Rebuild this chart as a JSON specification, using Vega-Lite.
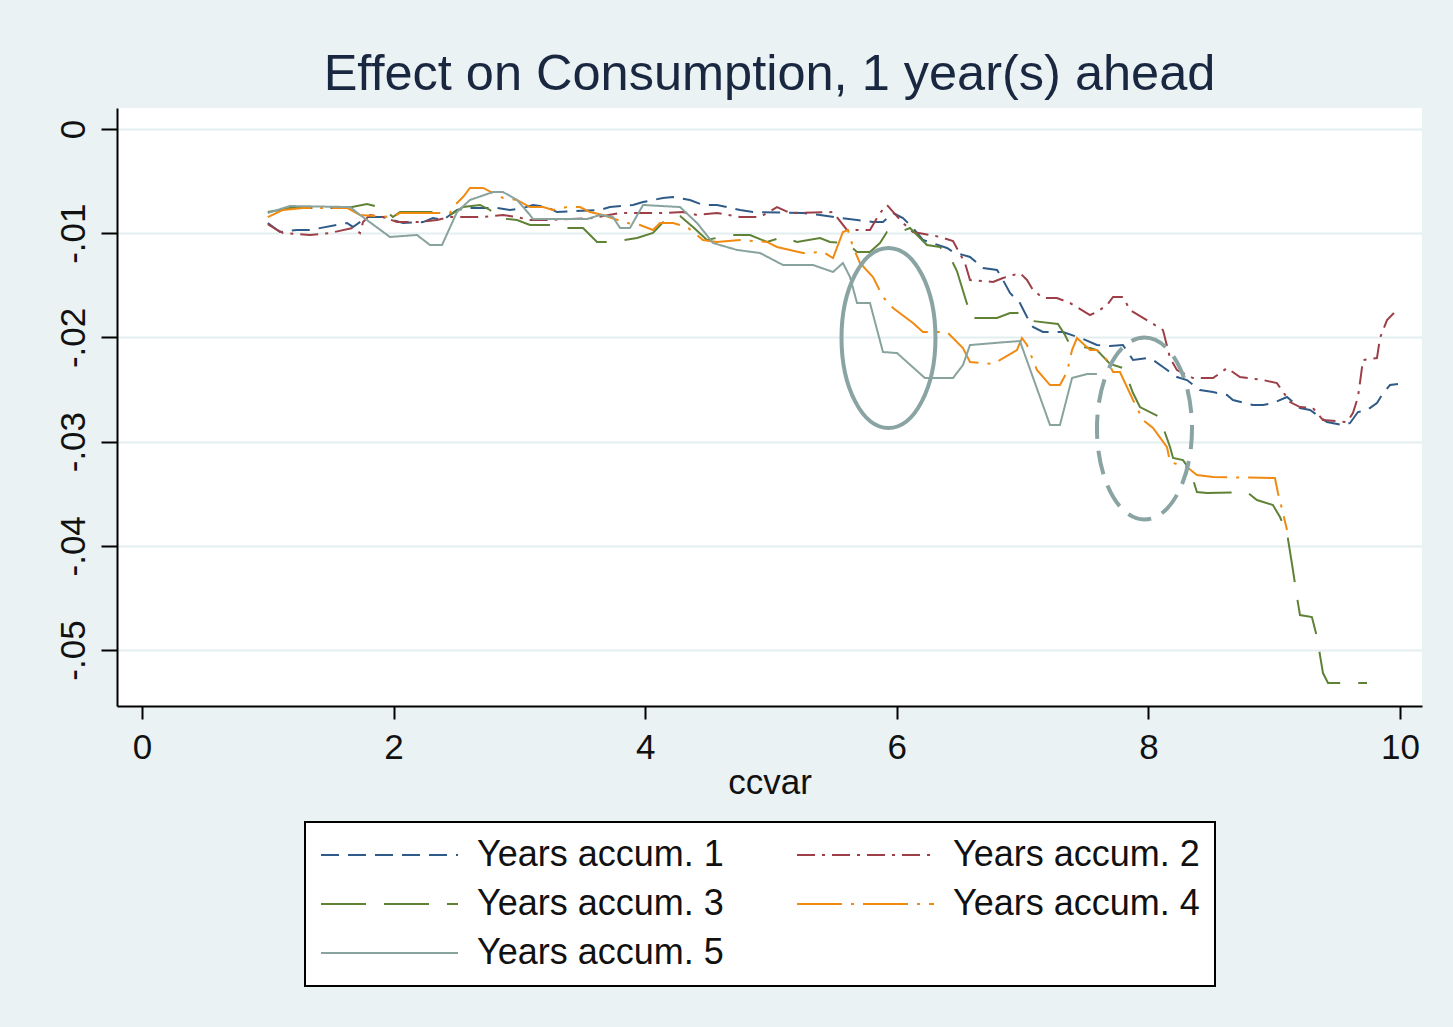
{
  "$schema": "https://vega.github.io/schema/vega-lite/v6.json",
  "autosize": {"type": "none"},
  "padding": {"left": 117, "top": 108, "right": 31, "bottom": 321},
  "width": 1305,
  "height": 598,
  "background": "#EAF2F3",
  "config": {
    "view": {"stroke": null, "fill": "#FFFFFF"},
    "font": "Liberation Sans"
  },
  "title": {
    "text": "Effect on Consumption, 1 year(s) ahead",
    "fontSize": 50.5,
    "fontWeight": "normal",
    "font": "Liberation Sans",
    "color": "#1A2740",
    "anchor": "middle",
    "frame": "group",
    "offset": 8
  },
  "datasets": {
    "lines": [
      {"s":1,"x":1.0,"y":-0.00902},{"s":1,"x":1.097,"y":-0.00988},{"s":1,"x":1.232,"y":-0.00969},{"s":1,"x":1.335,"y":-0.00969},{"s":1,"x":1.55,"y":-0.00921},{"s":1,"x":1.63,"y":-0.00902},{"s":1,"x":1.677,"y":-0.0094},{"s":1,"x":1.789,"y":-0.00845},{"s":1,"x":1.916,"y":-0.00845},{"s":1,"x":2.075,"y":-0.00902},{"s":1,"x":2.234,"y":-0.00893},{"s":1,"x":2.313,"y":-0.00854},{"s":1,"x":2.393,"y":-0.00873},{"s":1,"x":2.504,"y":-0.00777},{"s":1,"x":2.607,"y":-0.00758},{"s":1,"x":2.822,"y":-0.00758},{"s":1,"x":2.925,"y":-0.00777},{"s":1,"x":3.029,"y":-0.00758},{"s":1,"x":3.108,"y":-0.00729},{"s":1,"x":3.219,"y":-0.00749},{"s":1,"x":3.299,"y":-0.00797},{"s":1,"x":3.641,"y":-0.00777},{"s":1,"x":3.72,"y":-0.00749},{"s":1,"x":3.903,"y":-0.00729},{"s":1,"x":3.983,"y":-0.00701},{"s":1,"x":4.141,"y":-0.00662},{"s":1,"x":4.221,"y":-0.00653},{"s":1,"x":4.356,"y":-0.00681},{"s":1,"x":4.459,"y":-0.00729},{"s":1,"x":4.571,"y":-0.00729},{"s":1,"x":4.65,"y":-0.00749},{"s":1,"x":4.754,"y":-0.00777},{"s":1,"x":4.857,"y":-0.00797},{"s":1,"x":5.254,"y":-0.00806},{"s":1,"x":5.39,"y":-0.00825},{"s":1,"x":5.548,"y":-0.00854},{"s":1,"x":5.684,"y":-0.00873},{"s":1,"x":5.811,"y":-0.00893},{"s":1,"x":5.89,"y":-0.00893},{"s":1,"x":5.97,"y":-0.00806},{"s":1,"x":6.049,"y":-0.00854},{"s":1,"x":6.129,"y":-0.0095},{"s":1,"x":6.208,"y":-0.01065},{"s":1,"x":6.399,"y":-0.01142},{"s":1,"x":6.447,"y":-0.0118},{"s":1,"x":6.582,"y":-0.01228},{"s":1,"x":6.685,"y":-0.01334},{"s":1,"x":6.797,"y":-0.01353},{"s":1,"x":6.844,"y":-0.01449},{"s":1,"x":6.9,"y":-0.01574},{"s":1,"x":6.979,"y":-0.0167},{"s":1,"x":7.035,"y":-0.01804},{"s":1,"x":7.083,"y":-0.019},{"s":1,"x":7.162,"y":-0.01948},{"s":1,"x":7.321,"y":-0.01948},{"s":1,"x":7.48,"y":-0.02015},{"s":1,"x":7.591,"y":-0.02073},{"s":1,"x":7.695,"y":-0.02083},{"s":1,"x":7.798,"y":-0.02073},{"s":1,"x":7.878,"y":-0.02217},{"s":1,"x":7.989,"y":-0.02198},{"s":1,"x":8.037,"y":-0.02217},{"s":1,"x":8.116,"y":-0.02284},{"s":1,"x":8.227,"y":-0.0238},{"s":1,"x":8.307,"y":-0.02409},{"s":1,"x":8.41,"y":-0.02505},{"s":1,"x":8.514,"y":-0.02524},{"s":1,"x":8.625,"y":-0.02553},{"s":1,"x":8.672,"y":-0.02601},{"s":1,"x":8.831,"y":-0.02649},{"s":1,"x":8.911,"y":-0.02649},{"s":1,"x":8.99,"y":-0.0263},{"s":1,"x":9.102,"y":-0.02572},{"s":1,"x":9.149,"y":-0.0262},{"s":1,"x":9.205,"y":-0.02678},{"s":1,"x":9.285,"y":-0.02697},{"s":1,"x":9.42,"y":-0.02812},{"s":1,"x":9.547,"y":-0.02841},{"s":1,"x":9.603,"y":-0.02821},{"s":1,"x":9.666,"y":-0.02716},{"s":1,"x":9.738,"y":-0.02697},{"s":1,"x":9.817,"y":-0.0263},{"s":1,"x":9.865,"y":-0.02534},{"s":1,"x":9.921,"y":-0.02457},{"s":1,"x":9.984,"y":-0.02447},

      {"s":2,"x":1.0,"y":-0.00912},{"s":2,"x":1.073,"y":-0.00969},{"s":2,"x":1.121,"y":-0.00998},{"s":2,"x":1.335,"y":-0.01017},{"s":2,"x":1.494,"y":-0.00998},{"s":2,"x":1.677,"y":-0.0095},{"s":2,"x":1.733,"y":-0.00998},{"s":2,"x":1.757,"y":-0.00893},{"s":2,"x":1.812,"y":-0.00825},{"s":2,"x":1.916,"y":-0.00845},{"s":2,"x":2.027,"y":-0.00893},{"s":2,"x":2.21,"y":-0.00893},{"s":2,"x":2.345,"y":-0.00873},{"s":2,"x":2.448,"y":-0.00845},{"s":2,"x":2.711,"y":-0.00845},{"s":2,"x":2.87,"y":-0.00825},{"s":2,"x":2.981,"y":-0.00845},{"s":2,"x":3.084,"y":-0.00873},{"s":2,"x":3.243,"y":-0.00873},{"s":2,"x":3.585,"y":-0.00854},{"s":2,"x":3.8,"y":-0.00806},{"s":2,"x":4.141,"y":-0.00806},{"s":2,"x":4.3,"y":-0.00797},{"s":2,"x":4.412,"y":-0.00825},{"s":2,"x":4.571,"y":-0.00806},{"s":2,"x":4.754,"y":-0.00845},{"s":2,"x":4.913,"y":-0.00845},{"s":2,"x":5.048,"y":-0.00749},{"s":2,"x":5.151,"y":-0.00806},{"s":2,"x":5.493,"y":-0.00797},{"s":2,"x":5.604,"y":-0.00969},{"s":2,"x":5.787,"y":-0.00969},{"s":2,"x":5.866,"y":-0.00806},{"s":2,"x":5.922,"y":-0.00729},{"s":2,"x":6.049,"y":-0.00902},{"s":2,"x":6.129,"y":-0.00988},{"s":2,"x":6.343,"y":-0.01036},{"s":2,"x":6.447,"y":-0.01075},{"s":2,"x":6.542,"y":-0.01286},{"s":2,"x":6.582,"y":-0.01449},{"s":2,"x":6.765,"y":-0.01468},{"s":2,"x":6.844,"y":-0.0143},{"s":2,"x":6.979,"y":-0.01382},{"s":2,"x":7.035,"y":-0.01449},{"s":2,"x":7.083,"y":-0.01545},{"s":2,"x":7.162,"y":-0.01622},{"s":2,"x":7.273,"y":-0.01622},{"s":2,"x":7.377,"y":-0.0167},{"s":2,"x":7.536,"y":-0.01785},{"s":2,"x":7.591,"y":-0.01756},{"s":2,"x":7.671,"y":-0.01689},{"s":2,"x":7.719,"y":-0.01612},{"s":2,"x":7.798,"y":-0.01612},{"s":2,"x":7.854,"y":-0.01737},{"s":2,"x":8.013,"y":-0.01852},{"s":2,"x":8.116,"y":-0.01929},{"s":2,"x":8.172,"y":-0.02198},{"s":2,"x":8.227,"y":-0.02313},{"s":2,"x":8.355,"y":-0.0239},{"s":2,"x":8.514,"y":-0.0239},{"s":2,"x":8.625,"y":-0.02294},{"s":2,"x":8.728,"y":-0.0238},{"s":2,"x":8.911,"y":-0.02409},{"s":2,"x":9.022,"y":-0.02438},{"s":2,"x":9.126,"y":-0.0262},{"s":2,"x":9.205,"y":-0.02668},{"s":2,"x":9.308,"y":-0.02678},{"s":2,"x":9.388,"y":-0.02793},{"s":2,"x":9.579,"y":-0.02812},{"s":2,"x":9.626,"y":-0.02726},{"s":2,"x":9.666,"y":-0.02572},{"s":2,"x":9.69,"y":-0.02361},{"s":2,"x":9.706,"y":-0.02217},{"s":2,"x":9.817,"y":-0.02198},{"s":2,"x":9.841,"y":-0.02006},{"s":2,"x":9.897,"y":-0.01833},{"s":2,"x":9.976,"y":-0.01737},

      {"s":3,"x":1.0,"y":-0.00797},{"s":3,"x":1.097,"y":-0.00777},{"s":3,"x":1.176,"y":-0.00758},{"s":3,"x":1.63,"y":-0.00758},{"s":3,"x":1.789,"y":-0.0072},{"s":3,"x":1.916,"y":-0.00758},{"s":3,"x":1.995,"y":-0.00845},{"s":3,"x":2.051,"y":-0.00797},{"s":3,"x":2.345,"y":-0.00797},{"s":3,"x":2.448,"y":-0.00825},{"s":3,"x":2.552,"y":-0.00749},{"s":3,"x":2.687,"y":-0.00729},{"s":3,"x":2.766,"y":-0.00777},{"s":3,"x":2.822,"y":-0.00854},{"s":3,"x":2.981,"y":-0.00873},{"s":3,"x":3.084,"y":-0.00921},{"s":3,"x":3.267,"y":-0.00921},{"s":3,"x":3.347,"y":-0.0095},{"s":3,"x":3.506,"y":-0.0095},{"s":3,"x":3.617,"y":-0.01084},{"s":3,"x":3.744,"y":-0.01084},{"s":3,"x":3.935,"y":-0.01046},{"s":3,"x":4.062,"y":-0.00998},{"s":3,"x":4.173,"y":-0.00854},{"s":3,"x":4.277,"y":-0.00835},{"s":3,"x":4.38,"y":-0.0094},{"s":3,"x":4.491,"y":-0.01065},{"s":3,"x":4.674,"y":-0.01017},{"s":3,"x":4.833,"y":-0.01017},{"s":3,"x":4.968,"y":-0.01084},{"s":3,"x":5.095,"y":-0.01036},{"s":3,"x":5.207,"y":-0.01084},{"s":3,"x":5.39,"y":-0.01046},{"s":3,"x":5.469,"y":-0.01084},{"s":3,"x":5.604,"y":-0.01094},{"s":3,"x":5.684,"y":-0.0118},{"s":3,"x":5.787,"y":-0.0118},{"s":3,"x":5.866,"y":-0.01094},{"s":3,"x":5.922,"y":-0.00988},{"s":3,"x":6.002,"y":-0.00998},{"s":3,"x":6.105,"y":-0.0095},{"s":3,"x":6.24,"y":-0.01113},{"s":3,"x":6.343,"y":-0.01132},{"s":3,"x":6.423,"y":-0.01228},{"s":3,"x":6.478,"y":-0.01363},{"s":3,"x":6.566,"y":-0.01708},{"s":3,"x":6.582,"y":-0.01814},{"s":3,"x":6.797,"y":-0.01814},{"s":3,"x":6.9,"y":-0.01766},{"s":3,"x":7.003,"y":-0.01766},{"s":3,"x":7.083,"y":-0.01843},{"s":3,"x":7.281,"y":-0.01871},{"s":3,"x":7.337,"y":-0.01977},{"s":3,"x":7.377,"y":-0.02073},{"s":3,"x":7.536,"y":-0.02102},{"s":3,"x":7.591,"y":-0.02121},{"s":3,"x":7.695,"y":-0.02255},{"s":3,"x":7.798,"y":-0.02294},{"s":3,"x":7.83,"y":-0.0238},{"s":3,"x":7.878,"y":-0.02534},{"s":3,"x":7.933,"y":-0.02668},{"s":3,"x":8.092,"y":-0.02764},{"s":3,"x":8.116,"y":-0.0286},{"s":3,"x":8.172,"y":-0.03052},{"s":3,"x":8.196,"y":-0.03157},{"s":3,"x":8.275,"y":-0.03177},{"s":3,"x":8.331,"y":-0.03273},{"s":3,"x":8.386,"y":-0.03484},{"s":3,"x":8.466,"y":-0.03493},{"s":3,"x":8.784,"y":-0.03484},{"s":3,"x":8.863,"y":-0.0356},{"s":3,"x":8.99,"y":-0.03608},{"s":3,"x":9.046,"y":-0.03724},{"s":3,"x":9.102,"y":-0.03877},{"s":3,"x":9.149,"y":-0.04232},{"s":3,"x":9.181,"y":-0.04491},{"s":3,"x":9.205,"y":-0.04664},{"s":3,"x":9.3,"y":-0.04683},{"s":3,"x":9.34,"y":-0.04875},{"s":3,"x":9.388,"y":-0.05221},{"s":3,"x":9.428,"y":-0.05317},{"s":3,"x":9.738,"y":-0.05317},

      {"s":4,"x":1.0,"y":-0.00845},{"s":4,"x":1.121,"y":-0.00777},{"s":4,"x":1.28,"y":-0.00758},{"s":4,"x":1.63,"y":-0.00758},{"s":4,"x":1.733,"y":-0.00825},{"s":4,"x":1.995,"y":-0.00845},{"s":4,"x":2.051,"y":-0.00806},{"s":4,"x":2.448,"y":-0.00806},{"s":4,"x":2.472,"y":-0.00749},{"s":4,"x":2.552,"y":-0.00653},{"s":4,"x":2.607,"y":-0.00566},{"s":4,"x":2.711,"y":-0.00566},{"s":4,"x":2.87,"y":-0.00662},{"s":4,"x":2.981,"y":-0.00681},{"s":4,"x":3.084,"y":-0.00749},{"s":4,"x":3.188,"y":-0.00749},{"s":4,"x":3.267,"y":-0.00777},{"s":4,"x":3.378,"y":-0.00749},{"s":4,"x":3.482,"y":-0.00749},{"s":4,"x":3.561,"y":-0.00797},{"s":4,"x":3.665,"y":-0.00825},{"s":4,"x":3.855,"y":-0.00902},{"s":4,"x":3.959,"y":-0.00921},{"s":4,"x":4.062,"y":-0.00969},{"s":4,"x":4.118,"y":-0.00902},{"s":4,"x":4.221,"y":-0.00902},{"s":4,"x":4.332,"y":-0.0094},{"s":4,"x":4.459,"y":-0.01065},{"s":4,"x":4.571,"y":-0.01084},{"s":4,"x":4.754,"y":-0.01065},{"s":4,"x":4.968,"y":-0.01084},{"s":4,"x":5.048,"y":-0.01132},{"s":4,"x":5.254,"y":-0.0119},{"s":4,"x":5.413,"y":-0.0118},{"s":4,"x":5.493,"y":-0.01238},{"s":4,"x":5.572,"y":-0.00988},{"s":4,"x":5.612,"y":-0.00969},{"s":4,"x":5.652,"y":-0.01132},{"s":4,"x":5.707,"y":-0.01286},{"s":4,"x":5.811,"y":-0.0142},{"s":4,"x":5.89,"y":-0.01612},{"s":4,"x":5.97,"y":-0.01718},{"s":4,"x":6.129,"y":-0.01862},{"s":4,"x":6.208,"y":-0.01948},{"s":4,"x":6.399,"y":-0.01948},{"s":4,"x":6.526,"y":-0.02102},{"s":4,"x":6.582,"y":-0.02236},{"s":4,"x":6.765,"y":-0.02255},{"s":4,"x":6.955,"y":-0.02121},{"s":4,"x":6.995,"y":-0.02006},{"s":4,"x":7.035,"y":-0.02073},{"s":4,"x":7.114,"y":-0.02313},{"s":4,"x":7.218,"y":-0.02457},{"s":4,"x":7.297,"y":-0.02457},{"s":4,"x":7.353,"y":-0.02332},{"s":4,"x":7.393,"y":-0.02121},{"s":4,"x":7.432,"y":-0.02006},{"s":4,"x":7.536,"y":-0.02121},{"s":4,"x":7.591,"y":-0.02121},{"s":4,"x":7.671,"y":-0.02217},{"s":4,"x":7.719,"y":-0.02332},{"s":4,"x":7.774,"y":-0.02332},{"s":4,"x":7.878,"y":-0.02601},{"s":4,"x":7.957,"y":-0.02793},{"s":4,"x":8.037,"y":-0.02869},{"s":4,"x":8.148,"y":-0.03052},{"s":4,"x":8.172,"y":-0.03196},{"s":4,"x":8.307,"y":-0.03244},{"s":4,"x":8.386,"y":-0.03321},{"s":4,"x":8.514,"y":-0.0334},{"s":4,"x":9.006,"y":-0.03349},{"s":4,"x":9.03,"y":-0.03493},{"s":4,"x":9.07,"y":-0.03685},{"s":4,"x":9.102,"y":-0.03848},

      {"s":5,"x":1.0,"y":-0.00806},{"s":5,"x":1.176,"y":-0.00739},{"s":5,"x":1.653,"y":-0.00749},{"s":5,"x":1.733,"y":-0.00825},{"s":5,"x":1.971,"y":-0.01036},{"s":5,"x":2.186,"y":-0.01017},{"s":5,"x":2.289,"y":-0.01113},{"s":5,"x":2.385,"y":-0.01113},{"s":5,"x":2.504,"y":-0.00797},{"s":5,"x":2.607,"y":-0.00681},{"s":5,"x":2.79,"y":-0.00605},{"s":5,"x":2.87,"y":-0.00605},{"s":5,"x":2.981,"y":-0.00681},{"s":5,"x":3.084,"y":-0.00825},{"s":5,"x":3.108,"y":-0.00864},{"s":5,"x":3.537,"y":-0.00864},{"s":5,"x":3.641,"y":-0.00825},{"s":5,"x":3.744,"y":-0.00845},{"s":5,"x":3.8,"y":-0.0095},{"s":5,"x":3.879,"y":-0.0095},{"s":5,"x":3.983,"y":-0.00729},{"s":5,"x":4.277,"y":-0.00749},{"s":5,"x":4.412,"y":-0.00902},{"s":5,"x":4.539,"y":-0.01094},{"s":5,"x":4.73,"y":-0.01161},{"s":5,"x":4.913,"y":-0.0119},{"s":5,"x":5.095,"y":-0.01305},{"s":5,"x":5.334,"y":-0.01305},{"s":5,"x":5.493,"y":-0.01372},{"s":5,"x":5.572,"y":-0.01286},{"s":5,"x":5.628,"y":-0.0142},{"s":5,"x":5.684,"y":-0.0167},{"s":5,"x":5.787,"y":-0.0167},{"s":5,"x":5.89,"y":-0.0214},{"s":5,"x":6.002,"y":-0.0215},{"s":5,"x":6.224,"y":-0.0239},{"s":5,"x":6.447,"y":-0.0239},{"s":5,"x":6.526,"y":-0.02265},{"s":5,"x":6.582,"y":-0.02073},{"s":5,"x":6.876,"y":-0.02044},{"s":5,"x":6.979,"y":-0.02035},{"s":5,"x":7.218,"y":-0.02841},{"s":5,"x":7.297,"y":-0.02841},{"s":5,"x":7.393,"y":-0.0239},{"s":5,"x":7.512,"y":-0.02351},{"s":5,"x":7.591,"y":-0.02351}
    ],
    "ann": [
      {"kind": "solid", "x": 5.934, "y": -0.02005},
      {"kind": "dashed", "x": 7.969, "y": -0.02874}
    ]
  },
  "encoding": {
    "x": {
      "field": "x", "type": "quantitative",
      "scale": {"domain": [-0.1987, 10.175], "nice": false, "zero": false},
      "axis": {
        "values": [0, 2, 4, 6, 8, 10],
        "title": "ccvar",
        "titleFontSize": 35, "titleFontWeight": "normal", "titleColor": "#111111", "titlePadding": 0,
        "labelFontSize": 35, "labelColor": "#111111", "labelPadding": 11, "labelFlush": false, "labelOverlap": false,
        "tickSize": 13, "tickWidth": 2, "tickColor": "#000000",
        "domainColor": "#000000", "domainWidth": 2,
        "grid": false
      }
    },
    "y": {
      "field": "y", "type": "quantitative",
      "scale": {"domain": [-0.05537, 0.002015], "nice": false, "zero": false},
      "axis": {
        "values": [0, -0.01, -0.02, -0.03, -0.04, -0.05],
        "labelExpr": "datum.value == 0 ? '0' : '-.0' + round(-datum.value * 100)",
        "title": null,
        "labelFontSize": 35, "labelColor": "#111111", "labelAngle": -90, "labelAlign": "center", "labelBaseline": "bottom", "labelPadding": 10, "labelFlush": false, "labelOverlap": false,
        "tickSize": 16, "tickWidth": 2, "tickColor": "#000000",
        "domainColor": "#000000", "domainWidth": 2,
        "grid": true, "gridColor": "#E4EEF0", "gridWidth": 2
      }
    }
  },
  "layer": [
    {
      "data": {"name": "lines"},
      "mark": {"type": "line", "strokeWidth": 2},
      "encoding": {
        "color": {
          "field": "s", "type": "nominal",
          "scale": {"domain": [1, 2, 3, 4, 5], "range": ["#2F5B88", "#9C3F47", "#5F8236", "#F08A10", "#88A39E"]},
          "legend": {
            "orient": "none", "legendX": 188, "legendY": 714,
            "direction": "horizontal", "columns": 2, "title": null,
            "labelExpr": "'Years accum. ' + datum.label",
            "labelFontSize": 36, "labelColor": "#111111", "labelLimit": 500,
            "symbolType": "stroke", "symbolSize": 18769, "symbolStrokeWidth": 2,
            "clipHeight": 36,
            "labelOffset": 18, "columnPadding": 72, "rowPadding": 13, "padding": 15,
            "strokeColor": "#000000", "fillColor": "#FFFFFF",
            "encode": {"legend": {"update": {"strokeWidth": {"value": 2}}}}
          }
        },
        "strokeDash": {
          "field": "s", "type": "nominal",
          "scale": {"domain": [1, 2, 3, 4, 5], "range": [[18, 9], [18, 7, 3, 7], [45, 18], [45, 9, 3, 9], [1, 0]]}
        }
      }
    },
    {
      "data": {"name": "ann"},
      "transform": [{"filter": "datum.kind == 'solid'"}],
      "mark": {
        "type": "point",
        "shape": "M0,-1C0.2883,-1,0.522,-0.5523,0.522,0C0.522,0.5523,0.2883,1,0,1C-0.2883,1,-0.522,0.5523,-0.522,0C-0.522,-0.5523,-0.2883,-1,0,-1Z",
        "size": 32400, "filled": false, "stroke": "#8AA3A3", "strokeWidth": 4, "opacity": 1
      }
    },
    {
      "data": {"name": "ann"},
      "transform": [{"filter": "datum.kind == 'dashed'"}],
      "mark": {
        "type": "point",
        "shape": "M0,-1C0.2883,-1,0.522,-0.5523,0.522,0C0.522,0.5523,0.2883,1,0,1C-0.2883,1,-0.522,0.5523,-0.522,0C-0.522,-0.5523,-0.2883,-1,0,-1Z",
        "size": 33124, "filled": false, "stroke": "#8AA3A3", "strokeWidth": 4, "strokeDash": [24, 12], "opacity": 1
      }
    }
  ]
}
